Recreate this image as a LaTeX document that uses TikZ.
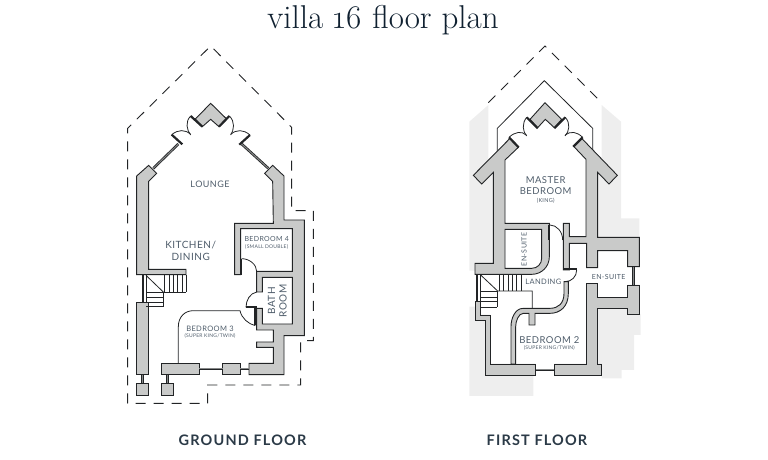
\documentclass[tikz,border=0pt]{standalone}
\usepackage{fontspec}
\newfontfamily\lato[LetterSpace=5]{Lato}
\newfontfamily\latohead[LetterSpace=8]{Lato}
\newfontfamily\titlefont[Numbers=OldStyle]{Latin Modern Roman}
\definecolor{wallgrey}{HTML}{C9CAC9}
\definecolor{ink}{HTML}{222426}
\definecolor{pale}{HTML}{EEEEEE}
\definecolor{labelc}{HTML}{4E5C6A}
\definecolor{headc}{HTML}{2B3A47}
\definecolor{titlec}{HTML}{0F2030}
\tikzset{
  wall/.style={fill=wallgrey,draw=ink,line width=0.9pt,line join=miter},
  thin/.style={draw=ink,line width=0.8pt},
  bar/.style={draw=ink,line width=2.2pt},
  win/.style={draw=ink,line width=0.8pt,double=wallgrey!60!ink,double distance=1pt},
  dashline/.style={draw=ink,line width=0.9pt,dash pattern=on 10pt off 8pt},
  palefill/.style={fill=pale,draw=none},
  room/.style={font=\lato\fontsize{9}{10}\selectfont,text=labelc,inner sep=0pt,align=center},
  roomsm/.style={font=\lato\fontsize{5}{6}\selectfont,text=labelc,inner sep=0pt},
  head/.style={font=\latohead\bfseries\fontsize{14.5}{16}\selectfont,text=headc,inner sep=0pt},
}
\begin{document}
\begin{tikzpicture}[x=1pt,y=-1pt]
\useasboundingbox (0,0) rectangle (768,460);
\node[font=\titlefont\fontsize{33}{36}\selectfont,text=titlec,inner sep=0pt,anchor=base] (title) at (383,28.5) {villa 16 floor plan};

% ---------- ground floor ----------
\begin{scope}[shift={(110,40)},x=0.33333pt,y=-0.33333pt]
\path[dashline] (53,1090) -- (53,265) -- (302,18) -- (545,262) -- (545,512) -- (610,512) -- (610,902) -- (572,902) -- (572,1035) -- (293,1035) -- (293,1090) -- cycle;
\path[wall] (464,400) -- (488,376) -- (522,408) -- (522,540) -- (583,540) -- (583,887) -- (522,887) -- (522,1004) -- (417,1004) -- (417,970) -- (490,970) -- (490,922) -- (440,922) -- (440,906) -- (490,906) -- (490,870) -- (440,870) -- (440,805) -- (457,805) -- (457,852) -- (547,852) -- (547,712) -- (457,712) -- (457,756) -- (440,756) -- (440,694) -- (547,694) -- (547,566) -- (392,566) -- (392,704) -- (374,704) -- (374,550) -- (490,550) -- (488,424) -- cycle;
\path[wall] (80,408) -- (116,376) -- (140,400) -- (116,424) -- (116,688) -- (228,688) -- (228,704) -- (80,704) -- cycle;
\path[wall] (80,788) rectangle (116,1004);
\path[wall] (80,1030) rectangle (116,1066);
\path[wall] (155,1030) rectangle (191,1066);
\path[wall] (155,970) rectangle (268,1004);
\path[wall] (338,970) rectangle (390,1004);
\path[win] (98,1004) -- (98,1030);
\path[win] (173,1004) -- (173,1030);
\path[win] (268,987) -- (338,987);
\path[win] (390,987) -- (417,987);
% stairs
\path[thin] (96,704) -- (96,788);
\path[thin] (108,704) -- (108,788);
\path[bar,line width=1.4pt] (100,704) -- (100,788);
\foreach \tx in {164,177,190,203,216,228} \path[thin] (\tx,704) -- (\tx,756);
\path[thin] (160,756) -- (228,756);
\foreach \ty in {758,772,786,800} \path[thin] (108,\ty) -- (160,\ty);
\path[thin] (160,756) -- (160,800);
\path[thin] (108,706) -- (160,756);
% bay
\path[wall] (302,190) -- (350,237) -- (327,260) -- (302,238) -- (277,260) -- (256,237) -- cycle;
\path[bar] (242,228) -- (277,260);
\path[bar] (327,260) -- (358,228);
\path[bar] (185,284) -- (217,313);
\path[bar] (420,285) -- (388,314);
\path[thin] (242,228) .. controls (225,245) and (230,270) .. (242,285);
\path[thin] (242,283) .. controls (225,268) and (205,268) .. (185,284);
\path[thin] (358,228) .. controls (376,245) and (372,270) .. (362,285);
\path[thin] (362,283) .. controls (380,268) and (400,268) .. (420,285);
\path[win] (130,385) -- (205,312);
\path[win] (395,312) -- (475,385);
% doors and inner line
\path[bar] (392,656) -- (392,704);
\path[thin] (395,656) .. controls (420,656) and (440,675) .. (440,694);
\path[thin] (440,756) .. controls (420,760) and (408,780) .. (408,802);
\path[bar] (408,802) -- (440,802);
\path[bar] (436,805) -- (436,855);
\path[thin] (205,970) -- (205,860) .. controls (205,830) and (225,812) .. (250,812) -- (390,812) .. controls (395,835) and (415,852) .. (436,857);
\node[room] (lounge) at (300,434) {LOUNGE};
\node[room,font=\lato\fontsize{10}{12.5}\selectfont] (kitchen) at (242,633) {KITCHEN/\\DINING};
\node[room,font=\lato\fontsize{7}{8}\selectfont] (bed4) at (470,598) {BEDROOM 4};
\node[roomsm] (bed4s) at (470,620) {(SMALL DOUBLE)};
\node[room,rotate=90,font=\lato\fontsize{10}{11.5}\selectfont] (bath) at (502,783) {BATH\\ROOM};
\node[room,font=\lato\fontsize{7.5}{8}\selectfont] (bed3) at (300,865) {BEDROOM 3};
\node[roomsm] (bed3s) at (300,887) {(SUPER KING/TWIN)};
\end{scope}

% ---------- first floor ----------
\begin{scope}[shift={(460,60)},x=0.33333pt,y=-0.33333pt]
\path[palefill] (85,135) -- (85,300) -- (60,345) -- (100,345) -- (100,632) -- (28,632) -- (28,185) -- cycle;
\path[palefill] (28,740) -- (45,740) -- (45,782) -- (75,782) -- (75,947) -- (220,947) -- (220,1008) -- (28,1008) -- cycle;
\path[palefill] (425,135) -- (483,185) -- (483,475) -- (538,475) -- (538,532) -- (413,532) -- (413,340) -- (425,350) -- cycle;
\path[palefill] (413,745) -- (503,745) -- (503,762) -- (542,762) -- (542,825) -- (522,825) -- (522,930) -- (485,930) -- (485,955) -- (425,955) -- (425,912) -- (413,912) -- cycle;
\path[dashline] (85,128) -- (255,-42) -- (425,128);
\path[thin] (112,280) -- (112,205) -- (253,62) -- (398,205) -- (398,280);
% walls
\path[wall,even odd rule] (40,346) -- (150,235) -- (175,262) -- (135,300) -- (135,490) -- (268,490) -- (268,590) .. controls (268,620) and (245,643) .. (215,643) -- (45,643) -- (45,610) -- (100,610) -- (100,337) -- (65,372) -- cycle
  (135,508) -- (245,508) -- (245,595) .. controls (245,612) and (232,625) .. (215,625) -- (135,625) -- cycle;
\path[wall] (340,258) -- (378,298) -- (378,530) -- (328,530) -- (328,490) -- (310,490) -- (310,630) -- (328,630) -- (328,550) -- (380,550) -- (380,623) -- (413,623) -- (413,572) -- (503,572) -- (503,620) -- (538,620) -- (538,532) -- (413,532) -- (413,337) -- (447,372) -- (472,346) -- (365,235) -- cycle;
\path[wall] (45,725) -- (62,725) -- (62,765) -- (90,765) -- (90,912) -- (227,912) -- (227,947) -- (75,947) -- (75,782) -- (45,782) -- cycle;
\path[wall] (283,947) -- (425,947) -- (425,912) -- (413,912) -- (413,745) -- (503,745) -- (503,762) -- (538,762) -- (538,675) -- (503,675) -- (503,712) -- (413,712) -- (413,670) -- (380,670) -- (380,912) -- (283,912) -- cycle;
\path[wall] (312,665) -- (312,700) .. controls (312,730) and (295,745) .. (270,745) -- (190,745) .. controls (165,745) and (153,775) .. (153,800) -- (153,912) -- (167,912) -- (167,800) .. controls (167,785) and (175,760) .. (190,760) -- (207,760) -- (207,795) -- (225,795) -- (225,760) -- (270,760) .. controls (300,760) and (325,740) .. (325,700) -- (325,665) -- cycle;
\path[win] (227,930) -- (283,930);
\path[win] (520,620) -- (520,675);
% stairs
\path[thin] (48,643) -- (48,725);
\path[thin] (60,643) -- (60,725);
\path[bar,line width=1.4pt] (52,643) -- (52,725);
\foreach \tx in {118,131,144,157,170,183} \path[thin] (\tx,643) -- (\tx,693);
\path[thin] (62,645) -- (113,693) -- (217,693) -- (217,745);
\foreach \ty in {695,712,725,742} \path[thin] (62,\ty) -- (112,\ty);
\path[thin] (112,693) -- (112,742);
% bay
\path[wall] (255,128) -- (305,178) -- (283,203) -- (256,178) -- (233,203) -- (210,178) -- cycle;
\path[bar] (200,172) -- (233,205);
\path[bar] (283,205) -- (316,172);
\path[bar] (147,232) -- (176,262);
\path[bar] (368,232) -- (340,260);
\path[thin] (200,172) .. controls (185,190) and (188,215) .. (200,228);
\path[thin] (200,226) .. controls (185,212) and (165,215) .. (147,232);
\path[thin] (316,172) .. controls (332,190) and (328,215) .. (315,228);
\path[thin] (315,226) .. controls (332,212) and (350,215) .. (368,232);
% doors
\path[bar] (268,495) -- (268,540);
\path[thin] (270,495) .. controls (290,495) and (308,515) .. (308,540);
\path[bar] (310,628) -- (350,628);
\path[thin] (350,630) .. controls (350,650) and (335,665) .. (315,665);
\node[room,font=\lato\fontsize{9.5}{10.3}\selectfont] (master) at (257,377) {MASTER\\BEDROOM};
\node[roomsm,font=\lato\fontsize{5.5}{6}\selectfont] (masters) at (257,423) {(KING)};
\node[room,rotate=90,font=\lato\fontsize{7}{8}\selectfont] (ens1) at (192,568) {EN-SUITE};
\node[room,font=\lato\fontsize{7}{8}\selectfont] (ens2) at (446,650) {EN-SUITE};
\node[room,font=\lato\fontsize{7.5}{8}\selectfont] (landing) at (250,665) {LANDING};
\node[room,font=\lato\fontsize{9.5}{10}\selectfont] (bed2) at (268,840) {BEDROOM 2};
\node[roomsm] (bed2s) at (268,865) {(SUPER KING/TWIN)};
\end{scope}

\node[head] (gf) at (242.5,440) {GROUND FLOOR};
\node[head] (ff) at (537,440) {FIRST FLOOR};
\end{tikzpicture}
\end{document}
